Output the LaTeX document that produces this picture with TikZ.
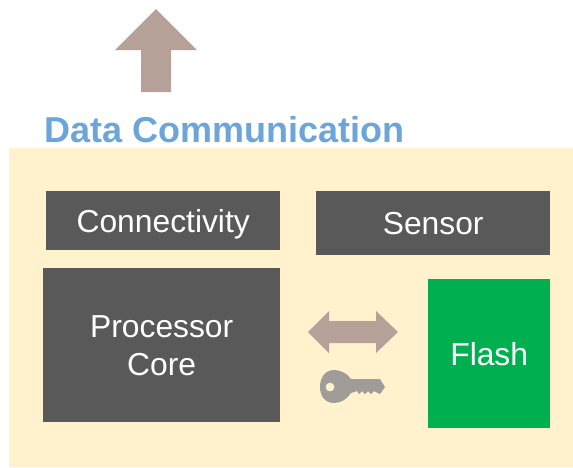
\documentclass[tikz,border=0pt]{standalone}
\usepackage{fontspec}
\setmainfont{Liberation Sans}
\usepackage{tikz}
\definecolor{panelbg}{HTML}{FFF2CC}
\definecolor{blockgray}{HTML}{595959}
\definecolor{flashgreen}{HTML}{00B050}
\definecolor{arrowbrown}{HTML}{B5A198}
\definecolor{keygray}{HTML}{A09C98}
\definecolor{titleblue}{HTML}{6BA5DA}
\tikzset{
	blockbox/.style={fill=#1,text=white,font=\fontsize{31.8}{38}\selectfont,align=center,anchor=north west,inner sep=0pt},
	blockbox/.default=blockgray
}
\begin{document}
\begin{tikzpicture}[x=1pt,y=-1pt]
	\useasboundingbox (0,0) rectangle (573,467);
	% panel
	\fill[panelbg] (9,148) rectangle (573,467);
	% title and big arrow
	\fill[arrowbrown] (156,9) -- (197,50) -- (171,50) -- (171,92) -- (141,92) -- (141,50) -- (115,50) -- cycle;
	\node[anchor=base west,inner sep=0pt,text=titleblue,font=\fontsize{36}{42}\selectfont\bfseries] (title) at (44,142) {Data Communication};
	% blocks
	\node[blockbox,minimum width=234pt,minimum height=59pt,text depth=0pt] (conn) at (46,191) {Connectivity};
	\node[blockbox,minimum width=234pt,minimum height=64pt] (sensor) at (316,191) {Sensor};
	\node[blockbox,minimum width=237pt,minimum height=154pt,text depth=-8pt] (core) at (43,268) {Processor\\Core};
	\node[blockbox=flashgreen,minimum width=122pt,minimum height=149pt] (flash) at (428,279) {Flash};
	% double arrow
	\fill[arrowbrown] (308,332) -- (329,311) -- (329,321) -- (376,321) -- (376,311) -- (398,332) -- (376,353) -- (376,343) -- (329,343) -- (329,353) -- cycle;
	% key
	\fill[keygray,even odd rule] (330,387) circle (4.5)
		(351,379) .. controls (347,373) and (340,370) .. (334,370)
		.. controls (325,370) and (320,378) .. (320,387)
		.. controls (320,396) and (325,403) .. (334,403)
		.. controls (341,403) and (347,399) .. (351,393)
		-- (357,391) -- (359,394) -- (362,391) -- (365,394) -- (368,391) -- (371,394) -- (374,391) -- (380,394)
		-- (385,387) -- (380,379) -- cycle;
\end{tikzpicture}
\end{document}
